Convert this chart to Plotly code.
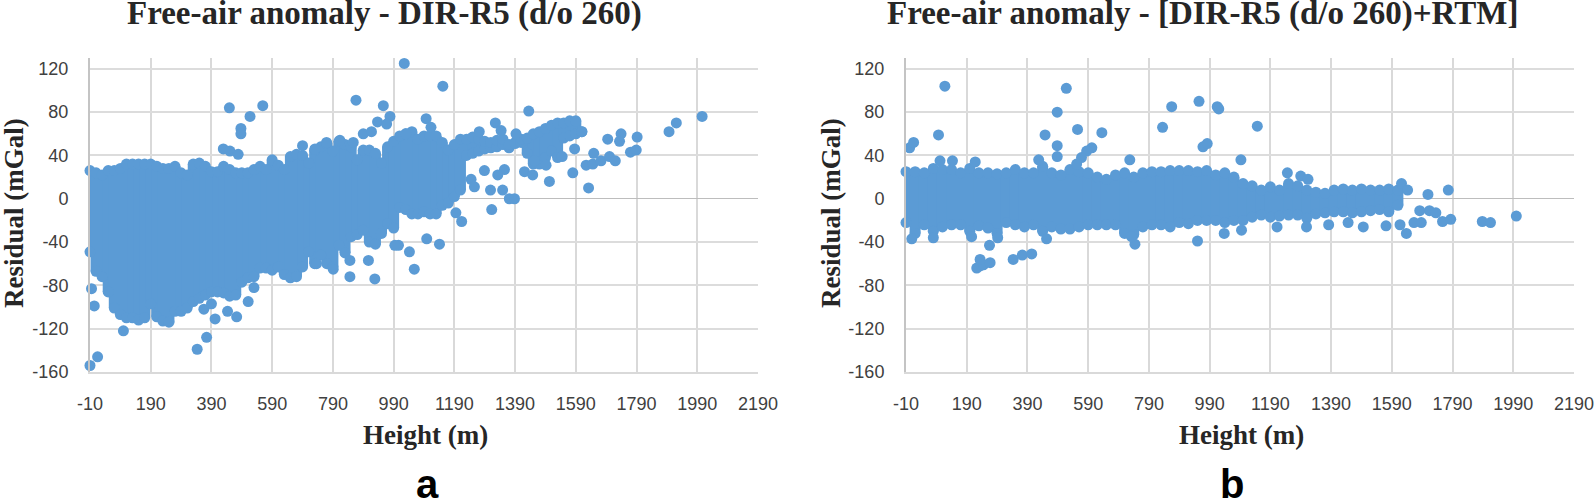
import plotly.graph_objects as go

#%% Data
# dense part of the clouds: for each height the lowest and highest point centre
height_a = [-10, 10, 30, 50, 70, 90, 110, 130, 150, 170, 190, 210, 230, 250, 270, 290, 310, 330, 350, 370,
            390, 410, 430, 450, 470, 490, 510, 530, 550, 570, 590, 610, 630, 650, 670, 690, 710, 730, 750, 770,
            790, 810, 830, 850, 870, 890, 910, 930, 950, 970, 990, 1010, 1030, 1050, 1070, 1090, 1110, 1130, 1150, 1170,
            1190, 1210, 1230, 1250, 1270, 1290, 1310, 1330, 1350, 1370, 1390, 1410, 1430, 1450, 1470, 1490, 1510, 1530, 1550, 1570,
            1590, 1610]
upper_a = [26, 24, 22, 26, 26, 28, 32, 32, 32, 32, 32, 30, 28, 28, 30, 24, 22, 32, 33, 30,
           25, 25, 30, 27, 24, 24, 24, 27, 30, 27, 36, 31, 27, 39, 41, 40, 33, 45, 48, 51,
           44, 53, 50, 48, 36, 45, 45, 42, 33, 48, 53, 58, 60, 62, 55, 58, 58, 58, 52, 45,
           50, 55, 55, 57, 55, 53, 52, 54, 55, 50, 51, 55, 56, 60, 62, 65, 68, 70, 70, 72,
           72, 62]
lower_a = [-49, -67, -72, -86, -101, -107, -110, -110, -112, -110, -97, -109, -113, -114, -104, -104, -101, -95, -92, -89,
           -86, -86, -87, -90, -89, -77, -73, -72, -64, -64, -66, -63, -70, -73, -72, -63, -49, -60, -52, -60,
           -63, -43, -50, -35, -33, -29, -40, -42, -32, -23, -27, -8, -10, -14, -14, -12, -14, -14, -6, -4,
           2, 8, 40, 42, 44, 46, 47, 48, 50, 47, 52, 52, 42, 32, 32, 38, 44, 38, 56, 58,
           60, 62]

# single points standing clear of the cloud
points_x_a = [-27, 1025, 1152, 449, 559, 517, 487, 487, 429, 451, 478, 866, 956, 978, 937, 967, 890, 917,
              690, 731, 769, 813, 857, 1097, 1113, 1030,
              1435, 1325, 1344, 1393, 1272, 1739, 1695, 1734, 1792, 1897, 1921, 2006, 1770, 1789, 1586, 1649,
              1624, 1646, 1673, 1701, 1720, 1545, 1492, 1454, 1421, 1448, 1503, 1580, 1632,
              1245, 1256, 1289, 1355, 1309, 1349, 1333, 1371, 1388, 1313, 1195, 1214,
              1099, 1141, 1042, 1058, 1006,
              100, 15, -10, 343, 374, 402, 365, 390, 443, 473, 511, 530, 4, -5, 846, 928, 907, 846, 994, 791, 736]
points_y_a = [7, 125, 104, 84, 86, 76, 65, 60, 46, 44, 41, 91, 86, 76, 71, 69, 60, 62,
              49, 46, 52, 54, 52, 74, 66, 60,
              81, 70, 63, 60, 62, 60, 55, 53, 57, 62, 70, 76, 43, 45, 46, 42,
              31, 32, 35, 39, 35, 39, 31, 35, 25, 22, 16, 24, 10,
              18, 11, 26, 27, 8, 8, 22, 0, 0, -10, -13, -21,
              -37, -42, -49, -65, -43,
              -122, -146, -154, -139, -128, -111, -102, -97, -104, -109, -95, -82, -99, -83, -72, -74, -57, -57, -43, -65, -60]

height_b = [-10, 20, 50, 80, 110, 140, 170, 200, 230, 260, 290, 320, 350, 380, 410, 440, 470, 500, 530, 560,
            590, 620, 650, 680, 710, 740, 770, 800, 830, 860, 890, 920, 950, 980, 1010, 1040, 1070, 1100, 1130, 1160,
            1190, 1220, 1250, 1280, 1310, 1340, 1370, 1400, 1430, 1460, 1490, 1520, 1550, 1580, 1610]
upper_b = [25, 25, 24, 28, 27, 27, 24, 28, 24, 24, 23, 24, 27, 24, 24, 30, 24, 22, 27, 25,
           24, 20, 18, 22, 24, 20, 24, 25, 25, 26, 26, 26, 25, 26, 22, 24, 20, 14, 12, 8,
           11, 8, 14, 12, 8, 6, 5, 8, 9, 8, 9, 8, 8, 9, 8]
lower_b = [-22, -32, -24, -30, -26, -24, -24, -30, -25, -27, -32, -22, -24, -26, -24, -30, -26, -28, -28, -26,
           -24, -24, -24, -24, -32, -33, -26, -24, -24, -26, -22, -23, -20, -20, -20, -22, -20, -20, -17, -15,
           -17, -16, -15, -15, -18, -14, -13, -12, -12, -13, -12, -11, -10, -12, -6]

points_x_b = [-27, 118, 97, 2, 15, 518, 488, 448, 488, 488, 555, 635, 835, 865, 955, 1015, 1020, 1147, 968, 982,
              1093, 727, 427, 602, 585, 568, 552, 102, 143, 218, 1246, 1290, 1314, 1622, 1642, 1709, 1776,
              9, 80, 206, 950, 744, 733, 265, 292, 343, 373, 404, 453, 1038, 1095, 1212, 1309, 1382, 1446, 1496, 1571,
              1617, 1638, 1663, 1687, 1682, 1714, 1735, 1757, 1784, 1888, 1915, 2000,
              234, 223, 245, 267, 234]
points_y_b = [7, 104, 59, 47, 52, 102, 80, 59, 49, 39, 64, 61, 66, 85, 90, 85, 83, 67, 48, 51,
              36, 36, 36, 47, 44, 38, 32, 35, 35, 34, 24, 21, 18, 14, 8, 4, 8,
              -37, -36, -35, -39, -42, -35, -43, -36, -56, -52, -51, -37, -32, -29, -26, -26, -24, -22, -26, -25,
              -24, -32, -22, -22, -11, -11, -13, -21, -19, -21, -22, -16,
              -62, -64, -61, -59, -56]

x_ticks = [-10, 190, 390, 590, 790, 990, 1190, 1390, 1590, 1790, 1990, 2190]
x_tick_labels = ['-10', '190', '390', '590', '790', '990', '1190', '1390', '1590', '1790', '1990', '2190']
y_ticks = [-160, -120, -80, -40, 0, 40, 80, 120]
y_tick_labels = ['-160', '-120', '-80', '-40', '0', '40', '80', '120']

blue = '#5b9bd5'
W, H = 1595, 500


def column_segments(heights, lows, highs):
    xs, ys = [], []
    for h, lo, hi in zip(heights, lows, highs):
        xs += [h, h, None]
        ys += [lo, hi, None]
    return xs, ys


#%% Plotly
fig = go.Figure()


def add_panel(ax, heights, lows, highs, px, py):
    xs, ys = column_segments(heights, lows, highs)
    fig.add_trace(go.Scatter(x=xs, y=ys, xaxis='x' + ax, yaxis='y' + ax, mode='lines+markers',
                             line=dict(color=blue, width=11), marker=dict(color=blue, size=11),
                             cliponaxis=False, showlegend=False))
    fig.add_trace(go.Scatter(x=px, y=py, xaxis='x' + ax, yaxis='y' + ax, mode='markers',
                             marker=dict(color=blue, size=11), cliponaxis=False, showlegend=False))


add_panel('', height_a, lower_a, upper_a, points_x_a, points_y_a)
add_panel('2', height_b, lower_b, upper_b, points_x_b, points_y_b)

tick_font = dict(family='Liberation Sans', size=18, color='#404040')
title_font = dict(family='Liberation Serif', size=27, color='#262626')


def x_axis(left, right, anchor):
    return dict(domain=[left / W, right / W], range=[-10, 2190], tickvals=x_ticks, ticktext=x_tick_labels,
                anchor=anchor, automargin=False,
                gridcolor='#d9d9d9', gridwidth=2, linecolor='#d9d9d9', linewidth=2, zeroline=False,
                tickfont=tick_font, ticks='outside', ticklen=14, tickcolor='rgba(0,0,0,0)')


def y_axis(anchor):
    return dict(domain=[1 - 372 / H, 1 - 58 / H], range=[-160, 130], tickvals=y_ticks, ticktext=y_tick_labels,
                anchor=anchor, automargin=False,
                gridcolor='#dcdcdc', gridwidth=2, linecolor='#c4c4c4', linewidth=2,
                zeroline=True, zerolinecolor='#bdbdbd', zerolinewidth=1,
                tickfont=tick_font, ticks='outside', ticklen=16, tickcolor='rgba(0,0,0,0)')


fig.update_layout(width=W, height=H, margin=dict(l=0, r=0, t=0, b=0), autosize=False,
                  paper_bgcolor='white', plot_bgcolor='white',
                  xaxis=x_axis(90, 758, 'y'), yaxis=y_axis('x'),
                  xaxis2=x_axis(906, 1574, 'y2'), yaxis2=y_axis('x2'))


def label(text, x, y, font, angle=0):
    fig.add_annotation(text='<b>' + text + '</b>', x=x / W, y=1 - y / H, xref='paper', yref='paper',
                       xanchor='center', yanchor='middle',
                       showarrow=False, font=font, textangle=angle)


big_title = dict(family='Liberation Serif', size=33, color='#262626')
label('Free-air anomaly - DIR-R5 (d/o 260)', 384, 13, big_title)
label('Free-air anomaly - [DIR-R5 (d/o 260)+RTM]', 1202, 13, big_title)
label('Height (m)', 425, 435, title_font)
label('Height (m)', 1241, 435, title_font)
label('Residual (mGal)', 14, 213, title_font, -90)
label('Residual (mGal)', 831, 213, title_font, -90)
panel_font = dict(family='Liberation Sans', size=40, color='black')
label('a', 427, 484, panel_font)
label('b', 1232, 484, panel_font)

# the page's default body margin would push the figure off by 8 px
fig.write_html("out.html", config={'displayModeBar': False},
               post_script="document.body.style.margin='0';")
